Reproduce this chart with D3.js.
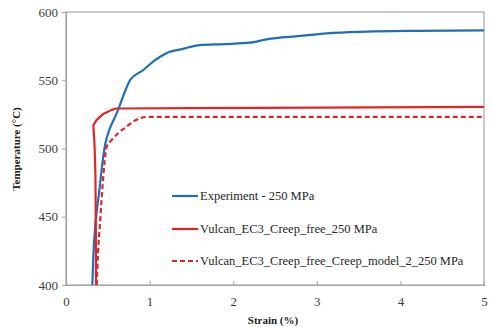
<!DOCTYPE html>
<html><head><meta charset="utf-8">
<script src="https://cdn.jsdelivr.net/npm/d3@7"></script>
<style>body{margin:0;background:#fff}svg{display:block}</style>
</head><body>
<svg id="c" width="492" height="327"></svg>
<script>
const xTicks = [0, 1, 2, 3, 4, 5];
const yTicks = [400, 450, 500, 550, 600];
const expStrain = [0.315, 0.327, 0.40, 0.467, 0.52, 0.586, 0.638, 0.70, 0.766, 0.925, 1.05, 1.2, 1.4, 1.6, 1.9, 2.2, 2.4, 2.8, 3.12, 3.6, 4.2, 5.0];
const expTemp   = [400, 421, 470, 502.6, 514, 523, 530.7, 541, 550, 557.5, 564, 569.8, 573, 575.8, 576.5, 577.5, 580, 582.5, 584.4, 585.6, 586.2, 586.6];
const freeStrain = [0.359, 0.357, 0.352, 0.343, 0.335, 0.327, 0.367, 0.45, 0.547, 0.60, 1.5, 3.0, 5.0];
const freeTemp   = [400, 440, 480, 500, 510, 517, 521, 525.5, 528.3, 529.3, 529.6, 530.0, 530.5];
const credStrain = [0.367, 0.38, 0.407, 0.44, 0.487, 0.547, 0.63, 0.726, 0.80, 0.885, 0.965, 2.0, 5.0];
const credTemp   = [400, 420, 445.3, 475, 501.4, 506.3, 511.5, 516, 519.5, 522.2, 523.1, 523.1, 523.1];
const legendLabels = ["Experiment - 250 MPa", "Vulcan_EC3_Creep_free_250 MPa", "Vulcan_EC3_Creep_free_Creep_model_2_250 MPa"];

const svg = d3.select("#c");
const L = 66, R = 484, T = 12, B = 285;
const x = d3.scaleLinear().domain([0, 5]).range([L, R]);
const y = d3.scaleLinear().domain([400, 600]).range([B, T]);
const serif = '"Liberation Serif"';

svg.append("rect").attr("x", L).attr("y", T).attr("width", R - L).attr("height", B - T)
  .attr("fill", "none").attr("stroke", "#a6a6a6").attr("stroke-width", 1.2);

const xa = svg.append("g").attr("transform", `translate(0,${B})`)
  .call(d3.axisBottom(x).tickValues(xTicks).tickSize(-4).tickPadding(12).tickFormat(d3.format("d")));
const ya = svg.append("g").attr("transform", `translate(${L},0)`)
  .call(d3.axisLeft(y).tickValues(yTicks).tickSize(4).tickPadding(4).tickFormat(d3.format("d")));
[xa, ya].forEach(a => {
  a.attr("font-family", null);
  a.select(".domain").attr("stroke", "#a6a6a6").attr("stroke-width", 1.2);
  a.selectAll(".tick line").attr("stroke", "#a6a6a6");
  a.selectAll("text").style("font-family", serif).style("font-size", "13px").attr("fill", "#404040");
});

const curves = [d3.curveMonotoneX, d3.curveLinear, d3.curveMonotoneX];
const series = [
  {s: expStrain, t: expTemp, c: "#1f6fb6", dash: null},
  {s: freeStrain, t: freeTemp, c: "#e0252a", dash: null},
  {s: credStrain, t: credTemp, c: "#e0252a", dash: "5,3"}
];
svg.append("clipPath").attr("id", "pc").append("rect")
  .attr("x", L).attr("y", T).attr("width", R - L).attr("height", B - T);
series.forEach((sr, i) => {
  const ln = d3.line().x(d => x(d[0])).y(d => y(d[1])).curve(curves[i]);
  svg.append("path").datum(sr.s.map((v, j) => [v, sr.t[j]]))
    .attr("d", ln).attr("fill", "none").attr("stroke", sr.c)
    .attr("stroke-width", 2.2).attr("stroke-linejoin", "round")
    .attr("stroke-dasharray", sr.dash).attr("clip-path", "url(#pc)");
});

const ly = [196, 229, 261];
series.forEach((sr, i) => {
  svg.append("line").attr("x1", 172).attr("x2", 198).attr("y1", ly[i]).attr("y2", ly[i])
    .attr("stroke", sr.c).attr("stroke-width", 2.2).attr("stroke-dasharray", sr.dash);
  svg.append("text").attr("x", 200).attr("y", ly[i] + 4).text(legendLabels[i])
    .style("font-family", serif).style("font-size", "12.5px").attr("fill", "#262626");
});

svg.append("text").attr("x", 273).attr("y", 324).attr("text-anchor", "middle")
  .style("font-family", serif).style("font-size", "11px").attr("font-weight", "bold").attr("fill", "#222")
  .text("Strain (%)");
svg.append("text").attr("transform", "translate(20,149) rotate(-90)").attr("text-anchor", "middle")
  .style("font-family", serif).style("font-size", "11px").attr("font-weight", "bold").attr("fill", "#222")
  .text("Temperature (°C)");
</script>
</body></html>
